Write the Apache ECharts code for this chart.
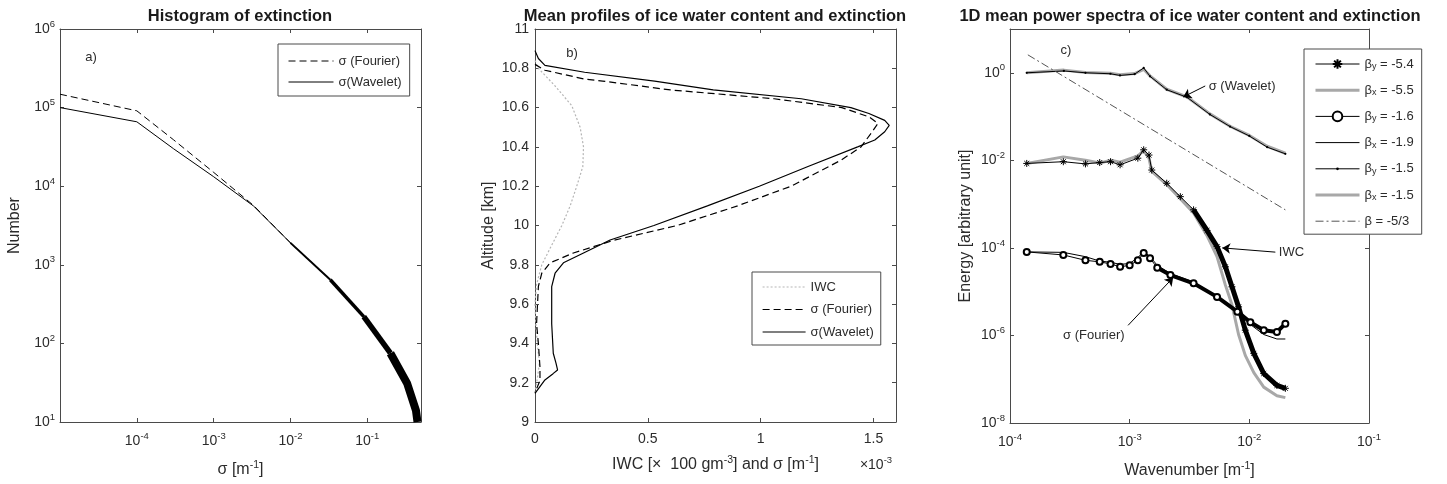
<!DOCTYPE html>
<html><head><meta charset="utf-8">
<script src="https://cdn.jsdelivr.net/npm/echarts@6/dist/echarts.min.js"></script>
<style>html,body{margin:0;padding:0;background:#fff}#c{width:1447px;height:484px}</style>
</head><body><div id="c"></div>
<script>
// ---------------- Panel a: histogram of extinction ----------------
const histSigma   = [1e-5, 1e-4, 3e-4, 1e-3, 3.3e-3, 1e-2, 3.3e-2, 9e-2, 0.2, 0.33, 0.43, 0.45];
const histWavelet = [1.0e5, 6.6e4, 3.0e4, 1.32e4, 5.6e3, 1.9e3, 645, 219, 75, 31, 14, 10];
const histFourier = [1.48e5, 9.1e4, 3.9e4, 1.5e4, 5.7e3, 1.9e3, 645, 219, 75, 31, 14, 10];

// ---------------- Panel b: mean profiles (sigma in 1e-3 m^-1) ----------------
const profWavSigma = [0, 0.015, 0.044, 0.22, 0.53, 0.79, 1.18, 1.40, 1.48, 1.55, 1.57, 1.55, 1.506, 1.43, 1.21, 0.994, 0.764, 0.527, 0.333, 0.215, 0.126, 0.089, 0.074, 0.074, 0.081, 0.093, 0.10, 0.08, 0.044, 0];
const profWavAlt   = [10.89, 10.85, 10.815, 10.78, 10.735, 10.69, 10.645, 10.60, 10.57, 10.535, 10.51, 10.477, 10.435, 10.40, 10.30, 10.20, 10.10, 10.0, 9.926, 9.86, 9.81, 9.757, 9.689, 9.50, 9.35, 9.30, 9.265, 9.246, 9.214, 9.146];
const profFouSigma = [0, 0.044, 0.22, 0.30, 0.60, 1.06, 1.36, 1.48, 1.52, 1.49, 1.445, 1.357, 1.135, 0.898, 0.63, 0.349, 0.17, 0.067, 0.03, 0.015, 0.007, 0.015, 0.022, 0.022, 0];
const profFouAlt   = [10.82, 10.79, 10.745, 10.735, 10.69, 10.645, 10.60, 10.553, 10.52, 10.47, 10.40, 10.333, 10.20, 10.10, 10.0, 9.925, 9.86, 9.81, 9.757, 9.69, 9.50, 9.40, 9.28, 9.21, 9.15];
const profIwc      = [0, 0.015, 0.089, 0.163, 0.20, 0.215, 0.212, 0.185, 0.156, 0.119, 0.074, 0.03, 0.007, 0, 0.004, 0.01, 0.02, 0.01, 0];
const profIwcAlt   = [10.84, 10.80, 10.71, 10.61, 10.50, 10.40, 10.30, 10.20, 10.10, 10.0, 9.9, 9.8, 9.7, 9.6, 9.5, 9.4, 9.3, 9.22, 9.15];

// ---------------- Panel c: 1D mean power spectra ----------------
const kWav   = [1.38e-4, 2.82e-4, 4.27e-4, 6.9e-4, 8.3e-4, 1.1e-3, 1.31e-3, 1.48e-3, 2.04e-3, 3.02e-3, 4.68e-3, 6.9e-3, 1e-2, 1.41e-2, 2.0e-2];
const eWavY  = [1.0, 1.10, 1.0, 0.95, 0.87, 0.93, 1.29, 0.83, 0.41, 0.275, 0.112, 0.059, 0.036, 0.020, 0.0141];
const eWavX  = [1.0, 1.15, 1.02, 0.98, 0.90, 0.96, 1.20, 0.85, 0.42, 0.28, 0.115, 0.060, 0.037, 0.021, 0.0145];

const kIwc   = [1.38e-4, 2.79e-4, 4.27e-4, 5.62e-4, 6.92e-4, 8.32e-4, 1.17e-3, 1.31e-3, 1.45e-3, 1.53e-3, 2.04e-3, 2.65e-3, 3.42e-3, 4.43e-3, 5.37e-3, 6.31e-3, 7.16e-3, 8.13e-3, 9.25e-3, 1.09e-2, 1.32e-2, 1.70e-2, 2.0e-2];
const eIwcY  = [8.5e-3, 9.3e-3, 8.3e-3, 8.9e-3, 9.3e-3, 7.9e-3, 1.12e-2, 1.74e-2, 1.32e-2, 6.0e-3, 3.0e-3, 1.48e-3, 7.4e-4, 2.5e-4, 1.07e-4, 3.7e-5, 1.29e-5, 4.5e-6, 1.32e-6, 3.9e-7, 1.35e-7, 7.2e-8, 6.2e-8];
const eIwcX  = [8.5e-3, 1.2e-2, 1.0e-2, 8.7e-3, 1.0e-2, 9.1e-3, 1.26e-2, 1.66e-2, 1.12e-2, 5.6e-3, 2.8e-3, 1.32e-3, 6.3e-4, 1.9e-4, 6.3e-5, 1.41e-5, 5.0e-6, 1.05e-6, 3.5e-7, 1.41e-7, 6.6e-8, 4.2e-8, 3.8e-8];

const kFou   = [1.38e-4, 2.79e-4, 4.27e-4, 5.62e-4, 6.92e-4, 8.32e-4, 1.0e-3, 1.17e-3, 1.31e-3, 1.48e-3, 1.70e-3, 2.19e-3, 3.42e-3, 5.37e-3, 7.94e-3, 1.02e-2, 1.32e-2, 1.70e-2, 2.0e-2];
const eFouY  = [8.1e-5, 6.9e-5, 5.2e-5, 4.8e-5, 4.3e-5, 3.7e-5, 4.0e-5, 5.2e-5, 7.6e-5, 5.8e-5, 3.5e-5, 2.4e-5, 1.55e-5, 7.6e-6, 3.5e-6, 2.0e-6, 1.32e-6, 1.2e-6, 1.86e-6];
const eFouX  = [8.1e-5, 7.9e-5, 6.3e-5, 5.0e-5, 4.7e-5, 4.2e-5, 4.4e-5, 6.0e-5, 8.3e-5, 6.3e-5, 4.0e-5, 2.6e-5, 1.66e-5, 7.9e-6, 3.5e-6, 1.78e-6, 1.05e-6, 8.3e-7, 8.3e-7];

const kRef   = [1.41e-4, 2.0e-2];
const eRef   = [2.57, 7.4e-4];

const legendA = ['σ (Fourier)', 'σ(Wavelet)'];
const legendB = ['IWC', 'σ (Fourier)', 'σ(Wavelet)'];
const legendC = ['β_y = -5.4', 'β_x = -5.5', 'β_y = -1.6', 'β_x = -1.9', 'β_y = -1.5', 'β_x = -1.5', 'β = -5/3'];

// ---------------- styling helpers ----------------
const FONT = '"Liberation Sans", Arial, sans-serif';
const TXT = '#2b2b2b';
const AX = '#4a4a4a';
const pairs = (xs, ys) => xs.map((x, i) => [x, ys[i]]);

const supRich = {
  b: { fontSize: 14, lineHeight: 20, color: TXT, fontFamily: FONT },
  s: { fontSize: 9.5, lineHeight: 10, verticalAlign: 'top', color: TXT, fontFamily: FONT },
  t: { fontSize: 16, lineHeight: 20, color: TXT, fontFamily: FONT },
  u: { fontSize: 10.5, lineHeight: 10, verticalAlign: 'top', color: TXT, fontFamily: FONT }
};
function logFmt(skip, evenOnly) {
  return function (v) {
    const l = Math.log10(v), e = Math.round(l);
    if (Math.abs(l - e) > 1e-6 || (skip && skip.indexOf(e) >= 0) || (evenOnly && e % 2 !== 0)) return '';
    return '{b|10}{s|' + e + '}';
  };
}
function ax(grid, pos, extra) {
  return Object.assign({
    gridIndex: grid, position: pos,
    axisLine: { show: true, onZero: false, lineStyle: { color: AX, width: 1 } },
    axisTick: { show: true, inside: true, length: 4, lineStyle: { color: AX } },
    axisLabel: { show: false },
    splitLine: { show: false },
    nameMoveOverlap: false
  }, extra);
}
function label(fmt, margin) {
  return { show: true, margin: margin, formatter: fmt, rich: supRich, color: TXT, fontSize: 14, fontFamily: FONT, showMinLabel: true, showMaxLabel: true };
}
const nameStyle = { rich: supRich, color: TXT, fontSize: 16, fontFamily: FONT };

const aX = { type: 'log', min: 1e-5, max: 0.5 };
const aY = { type: 'log', min: 10, max: 1e6 };
const bX = { type: 'value', min: 0, max: 1.6, interval: 0.5 };
const bY = { type: 'value', min: 9, max: 11, interval: 0.2 };
const cX = { type: 'log', min: 1e-4, max: 1e-1 };
const cY = { type: 'log', logBase: 100, min: 1e-8, max: 10 };

const xAxis = [
  ax(0, 'bottom', Object.assign({}, aX, { axisLabel: label(logFmt([-5]), 9),
    name: '{t|σ [m}{u|-1}{t|]}', nameLocation: 'middle', nameGap: 38, nameTextStyle: nameStyle })),
  ax(0, 'top', Object.assign({}, aX)),
  ax(1, 'bottom', Object.assign({}, bX, { axisLabel: label(v => (Math.abs(v - 1.6) < 1e-6 ? '' : String(v)), 10),
    name: '{t|IWC [×  100 gm}{u|-3}{t|] and σ [m}{u|-1}{t|]}', nameLocation: 'middle', nameGap: 33, nameTextStyle: nameStyle })),
  ax(1, 'top', Object.assign({}, bX)),
  ax(2, 'bottom', Object.assign({}, cX, { axisLabel: label(logFmt(), 9),
    name: '{t|Wavenumber [m}{u|-1}{t|]}', nameLocation: 'middle', nameGap: 38, nameTextStyle: nameStyle })),
  ax(2, 'top', Object.assign({}, cX))
];
const yAxis = [
  ax(0, 'left', Object.assign({}, aY, { axisLabel: label(logFmt(), 5),
    name: 'Number', nameLocation: 'middle', nameGap: 37, nameRotate: 90, nameTextStyle: nameStyle })),
  ax(0, 'right', Object.assign({}, aY)),
  ax(1, 'left', Object.assign({}, bY, { axisLabel: label(v => String(Math.round(v * 10) / 10), 6),
    name: 'Altitude [km]', nameLocation: 'middle', nameGap: 38, nameRotate: 90, nameTextStyle: nameStyle })),
  ax(1, 'right', Object.assign({}, bY)),
  ax(2, 'left', Object.assign({}, cY, { axisLabel: label(logFmt(null, true), 5),
    name: 'Energy [arbitrary unit]', nameLocation: 'middle', nameGap: 36, nameRotate: 90, nameTextStyle: nameStyle })),
  ax(2, 'right', Object.assign({}, cY))
];

// invisible legend marker (non-degenerate bounding box, no area)
const NOSYM = 'path://M0,0L0,0M10,10L10,10';
const ASTER = 'path://M5,0L5,10M0,5L10,5M1.5,1.5L8.5,8.5M1.5,8.5L8.5,1.5';
const DOT = 'path://M0,0L0,0M10,10L10,10M3.6,5A1.4,1.4 0 1,0 6.4,5A1.4,1.4 0 1,0 3.6,5Z';
function line(name, xi, yi, data, ls, extra) {
  return Object.assign({
    type: 'line', name: name, xAxisIndex: xi, yAxisIndex: yi, data: data,
    symbol: NOSYM, showSymbol: false, silent: true, animation: false, clip: true,
    lineStyle: Object.assign({ color: '#000', width: 1 }, ls),
    itemStyle: { color: '#000', borderColor: '#000', borderWidth: 0 }
  }, extra || {});
}

const histW = pairs(histSigma, histWavelet);
const histF = pairs(histSigma, histFourier);
const iwcY = pairs(kIwc, eIwcY), fouY = pairs(kFou, eFouY);
const markStyle = { color: '#000', borderColor: '#000', borderWidth: 1 };

const series = [
  // a
  line('a0', 0, 0, histF, { type: [7, 4] }),
  line('a1', 0, 0, histW, {}),
  line('a_band1', 0, 0, histW.slice(5, 7), { width: 2 }),
  line('a_band2', 0, 0, histW.slice(6, 8), { width: 3.5 }),
  line('a_band3', 0, 0, histW.slice(7, 9), { width: 5.5 }),
  line('a_band4', 0, 0, histW.slice(8), { width: 8 }),
  // b
  line('b0', 2, 2, pairs(profIwc, profIwcAlt), { color: '#b5b5b5', width: 1.2, type: [2, 2] }),
  line('b1', 2, 2, pairs(profFouSigma, profFouAlt), { type: [7, 4], width: 1.2 }),
  line('b2', 2, 2, pairs(profWavSigma, profWavAlt), { width: 1.2 }),
  // c
  line('c5', 4, 4, pairs(kWav, eWavX), { color: '#a8a8a8', width: 3 }),
  line('c4', 4, 4, pairs(kWav, eWavY), { width: 1 }, { symbol: DOT, showSymbol: true, symbolSize: 8, itemStyle: { color: '#000', borderWidth: 0 } }),
  line('c1', 4, 4, pairs(kIwc, eIwcX), { color: '#a8a8a8', width: 3 }),
  line('c3', 4, 4, pairs(kFou, eFouX), { width: 1 }),
  line('c_band1', 4, 4, iwcY.slice(12), { width: 5 }),
  line('c_band2', 4, 4, fouY.slice(10), { width: 4 }),
  line('c0', 4, 4, iwcY, { width: 1 }, { symbol: ASTER, showSymbol: true, symbolSize: 7, itemStyle: markStyle }),
  line('c2', 4, 4, fouY, { width: 1 }, { symbol: 'emptyCircle', showSymbol: true, symbolSize: 6, itemStyle: markStyle,
    markLine: { silent: true, animation: false, symbol: ['none', 'arrow'], symbolSize: 8,
      lineStyle: { color: '#000', width: 1, type: 'solid' }, label: { show: false },
      data: [
        [{ coord: [4.28e-3, 0.5] }, { coord: [2.8e-3, 0.28] }],
        [{ coord: [1.65e-2, 8e-5] }, { coord: [5.94e-3, 1e-4] }],
        [{ coord: [9.7e-4, 1.7e-6] }, { coord: [2.31e-3, 2.1e-5] }]
      ] },
    markPoint: { silent: true, animation: false, symbol: 'circle', symbolSize: 1,
      itemStyle: { color: 'rgba(0,0,0,0)' },
      label: { show: true, color: TXT, fontSize: 13, fontFamily: FONT, distance: 3 },
      data: [
        { coord: [4.28e-3, 0.5], label: { formatter: 'σ (Wavelet)', position: 'right' } },
        { coord: [1.65e-2, 8e-5], label: { formatter: 'IWC', position: 'right' } },
        { coord: [9.7e-4, 1.7e-6], label: { formatter: 'σ (Fourier)', position: 'left', offset: [0, 10] } }
      ] } }),
  line('c6', 4, 4, pairs(kRef, eRef), { color: '#555', width: 1, type: [8, 3, 2, 3] })
];

const names = { a0: legendA[0], a1: legendA[1], b0: legendB[0], b1: legendB[1], b2: legendB[2] };
legendC.forEach((t, i) => { names['c' + i] = t; });
function legFmt(n) {
  const t = names[n] || n;
  const m = t.match(/^β_(\w)(.*)$/);
  if (m) return '{g|β}{d|' + m[1] + '}{g|' + m[2] + '}';
  return '{g|' + t + '}';
}
const legRich = {
  g: { fontSize: 13, lineHeight: 14, color: TXT, fontFamily: FONT },
  d: { fontSize: 9, lineHeight: 9, verticalAlign: 'bottom', color: TXT, fontFamily: FONT }
};
// legend line widths follow the series widths
const widthOf = {};
series.forEach(s => { widthOf[s.name] = s.lineStyle.width; });
function legend(data, left, top, w, h, gap, pad) {
  return { data: data.map(n => ({ name: n, lineStyle: { width: widthOf[n] } })),
    orient: 'vertical', left: left, top: top, itemWidth: w, itemHeight: h, itemGap: gap,
    padding: pad, borderColor: AX, borderWidth: 1, borderRadius: 0, backgroundColor: '#fff',
    selectedMode: false, formatter: legFmt, textStyle: { rich: legRich, color: TXT, fontSize: 13, lineHeight: h },
    z: 10 };
}

const titleStyle = { fontSize: 16.5, fontWeight: 'bold', fontFamily: FONT, fill: '#1a1a1a', align: 'center', verticalAlign: 'middle', textAlign: 'center', textVerticalAlign: 'middle' };
function txt(x, y, text, st) {
  return { type: 'text', x: x, y: y, silent: true, z: 20, style: Object.assign({ text: text }, st) };
}
const smallStyle = { fontSize: 13, fontFamily: FONT, fill: TXT, align: 'center', verticalAlign: 'middle', textAlign: 'center', textVerticalAlign: 'middle' };

const option = {
  animation: false,
  backgroundColor: '#fff',
  grid: [
    { left: 60, top: 29, width: 361, height: 393, containLabel: false, outerBoundsMode: 'none' },
    { left: 535, top: 29, width: 361, height: 393, containLabel: false, outerBoundsMode: 'none' },
    { left: 1010, top: 29, width: 359, height: 394, containLabel: false, outerBoundsMode: 'none' }
  ],
  xAxis: xAxis, yAxis: yAxis,
  legend: [
    legend(['a0', 'a1'], 278, 44, 45, 10, 7, [10, 8, 7, 10]),
    legend(['b0', 'b1', 'b2'], 752, 272, 43, 10, 8.5, [8, 7, 6, 10]),
    legend(['c0', 'c1', 'c2', 'c3', 'c4', 'c5', 'c6'], 1304, 49, 44, 12, 12.2, [8, 8, 6, 10])
  ],
  series: series,
  graphic: [
    txt(240, 16, 'Histogram of extinction', titleStyle),
    txt(715, 16, 'Mean profiles of ice water content and extinction', titleStyle),
    txt(1190, 16, '1D mean power spectra of ice water content and extinction', titleStyle),
    txt(91, 57, 'a)', smallStyle),
    txt(572, 53, 'b)', smallStyle),
    txt(1066, 50, 'c)', smallStyle),
    txt(876, 465, '{b|×10}{s|-3}', Object.assign({}, smallStyle, { rich: supRich }))
  ]
};
const chart = echarts.init(document.getElementById('c'), null, { renderer: 'canvas' });
chart.setOption(option);
</script></body></html>
